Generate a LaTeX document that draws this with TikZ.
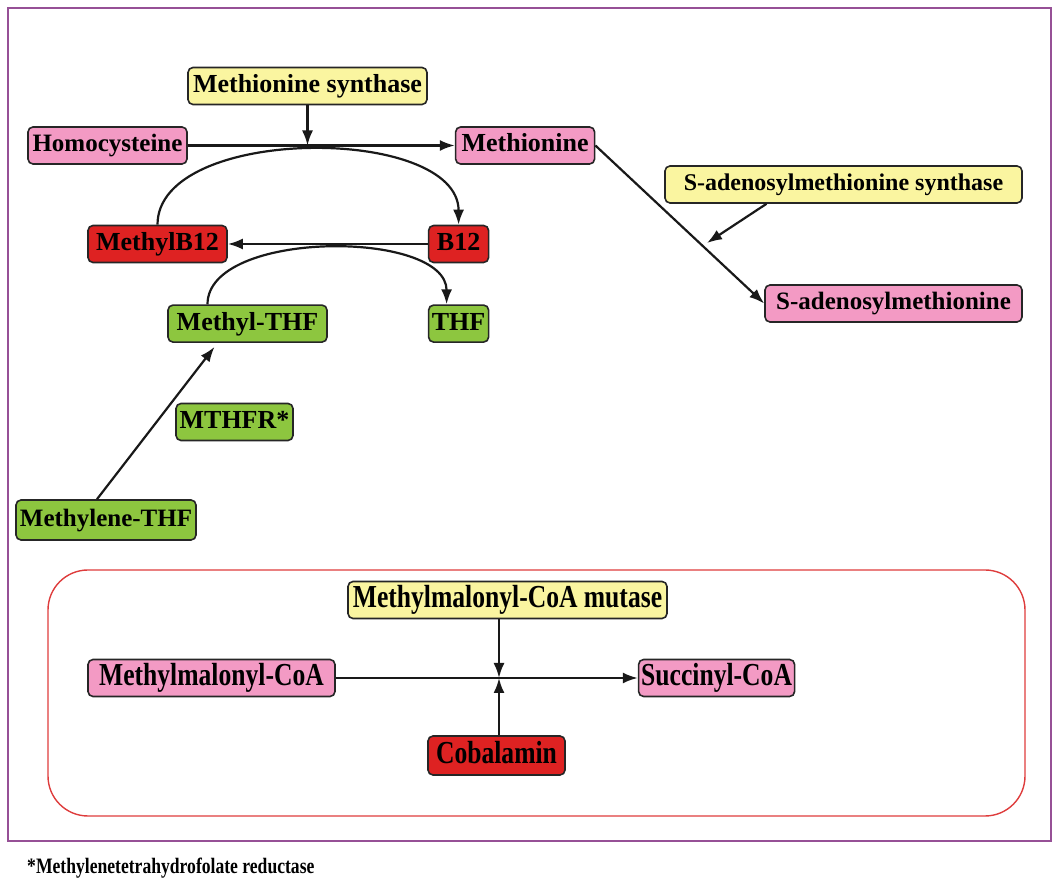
\documentclass[tikz,border=0pt]{standalone}
\usepackage{fontspec}
\setmainfont{Liberation Serif}
\newfontfamily\condfont[FakeStretch=0.8]{Liberation Serif}
\usepackage{tikz}
\usetikzlibrary{arrows.meta,calc,positioning}
\definecolor{enzyellow}{RGB}{250,245,160}
\definecolor{metpink}{RGB}{243,154,196}
\definecolor{cobred}{RGB}{222,34,34}
\definecolor{folgreen}{RGB}{141,198,63}
\definecolor{framepurple}{RGB}{150,80,150}
\definecolor{boxred}{RGB}{222,60,60}
\tikzset{
	pbox/.style={draw=black!85, rounded corners=5pt, line width=1.6pt,
		minimum height=37pt, inner xsep=1pt, inner ysep=2pt,
		text height=18pt, text depth=5pt,
		font=\fontsize{26}{28}\selectfont\bfseries},
	cbox/.style={pbox, text height=22pt, text depth=6pt,
		font=\condfont\fontsize{32}{34}\selectfont\bfseries},
	enz/.style={fill=enzyellow},
	met/.style={fill=metpink},
	cob/.style={fill=cobred},
	fol/.style={fill=folgreen},
	react/.style={draw=black!90, line width=2.2pt, -{Latex[length=15pt,width=11pt]}}
}
\begin{document}
\begin{tikzpicture}[x=1pt,y=1pt]
  \useasboundingbox (0,0) rectangle (1052,878);
  \draw[framepurple, line width=2pt] (8,37) rectangle (1051,870);
  \draw[boxred, line width=1.4pt, rounded corners=40pt] (48,62) rectangle (1025,308);
  % methionine cycle
  \node [pbox, met, minimum width=159pt, font=\fontsize{25}{27}\selectfont\bfseries] (hcy) at (107.5,732.5) {Homocysteine};
  \node [pbox, enz, minimum width=239pt] (msyn) at (307.5,792) {Methionine synthase};
  \node [pbox, met, minimum width=139pt, right=267 of hcy] (mets) {Methionine};
  \node [pbox, cob, minimum width=139pt] (mb12) at (157.5,634) {MethylB12};
  \node [pbox, cob, minimum width=60pt, right=200 of mb12] (b12) {B12};
  \node [pbox, fol, minimum width=60pt, below=41 of b12] (thf) {THF};
  \node [pbox, fol, minimum width=159pt, left=100 of thf] (mthf) {Methyl-THF};
  \node [pbox, fol, minimum width=117pt] (mthfr) at (234.5,456) {MTHFR*};
  \node [pbox, fol, minimum width=180pt, minimum height=40pt, font=\fontsize{25}{27}\selectfont\bfseries] (mlthf) at (106,358) {Methylene-THF};
  \node [pbox, enz, minimum width=357pt, font=\fontsize{24}{26}\selectfont\bfseries] (samsyn) at (843.5,693.5) {S-adenosylmethionine synthase};
  \node [pbox, met, minimum width=257pt, font=\fontsize{25}{27}\selectfont\bfseries] (sam) at (893.5,574.5) {S-adenosylmethionine};
  \coordinate (msjoin) at (msyn.south |- hcy.east);
  \draw [react] (hcy) -- (mets);
  \draw [react] (msyn) -- (msjoin);
  \draw [react] (mb12.north) .. controls +(0,100) and +(0,100) .. (b12.north);
  \draw [react] (b12) -- (mb12);
  \draw [react] ($(mthf.north)+(-40,0)$) .. controls +(0,75) and +(0,75) .. ($(thf.north)+(-12,0)$);
  \draw [react] ($(mlthf.north)+(-9,0)$) -- ($(mthf.south)+(-33,-4)$);
  \draw [react] (mets.east) -- (sam.west);
  \coordinate (samjoin) at (707,635);
  \draw [react] ($(samsyn.south)+(-77,0)$) -- (samjoin);
  % propionate pathway
  \node [cbox, enz, minimum width=319pt] (mut) at (507.5,278) {Methylmalonyl-CoA mutase};
  \node [cbox, met, minimum width=247pt] (mmcoa) at (211.5,200) {Methylmalonyl-CoA};
  \node [cbox, met, minimum width=156pt, right=302 of mmcoa] (succoa) {Succinyl-CoA};
  \node [cbox, cob, minimum width=137pt, minimum height=39pt] (cobal) at (496.5,122.5) {Cobalamin};
  \coordinate (mutjoin) at (499,200);
  \draw [react] (mmcoa) -- (succoa);
  \draw [react] (mut.south -| mutjoin) -- (mutjoin);
  \draw [react] (cobal.north -| mutjoin) -- (mutjoin);
  \node [anchor=west, inner sep=0pt, font=\condfont\fontsize{22}{24}\selectfont\bfseries] (note) at (27,10) {*Methylenetetrahydrofolate reductase};
\end{tikzpicture}
\end{document}
